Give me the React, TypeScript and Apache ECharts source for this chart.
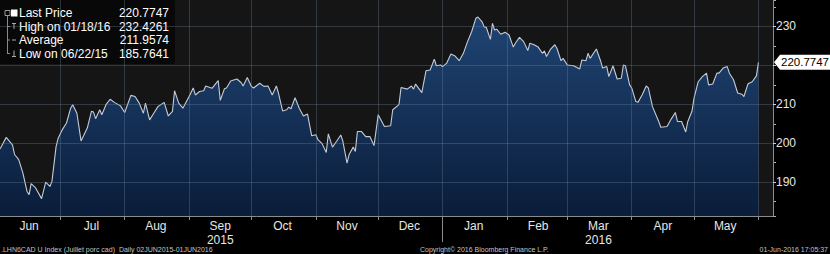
import React, { useEffect, useRef } from "react";
import * as echarts from "echarts";

// ---- data ----
const START_DATE = "2015-06-02";
const END_DATE = "2016-06-08"; // right edge of the plot (a few empty days after the last price)
// days since START_DATE of each reading, and the price read at that day
const dayOffsets = [
  0, 3, 6, 7, 9, 11, 13, 14, 15, 17, 20, 22, 24, 25, 27, 28, 30, 32, 34, 35, 37, 39, 42, 44, 45, 46, 48, 49,
  51, 53, 55, 58, 60, 63, 65, 67, 69, 70, 72, 74, 76, 79, 81, 83, 84, 86, 88, 91, 93, 94, 96, 98, 99, 102,
  105, 106, 108, 109, 111, 114, 116, 117, 119, 121, 122, 125, 127, 129, 131, 133, 134, 136, 138, 139, 140,
  142, 144, 146, 148, 150, 152, 153, 155, 157, 158, 160, 162, 164, 165, 167, 168, 170, 171, 172, 174, 176,
  178, 180, 182, 185, 188, 189, 192, 193, 196, 198, 199, 200, 203, 205, 207, 209, 210, 212, 213, 215, 217,
  219, 221, 223, 225, 227, 229, 230, 232, 233, 234, 236, 237, 238, 239, 241, 243, 245, 247, 248, 250, 252,
  254, 255, 257, 259, 261, 262, 263, 265, 267, 268, 270, 271, 273, 276, 279, 280, 282, 283, 284, 287, 289,
  290, 292, 293, 295, 297, 299, 300, 301, 303, 304, 306, 307, 309, 311, 312, 314, 317, 318, 321, 323, 325,
  326, 328, 330, 331, 333, 334, 336, 338, 340, 341, 343, 345, 346, 348, 350, 351, 353, 355, 357, 358, 360,
  362, 364, 365,
];
const prices = [
  198.5, 201.5, 199.6, 197.1, 195.8, 192.4, 187.6, 186.8, 189.6, 188.6, 185.76, 190.0, 188.9, 190.2, 199.2,
  201.3, 203.5, 205.2, 209.0, 209.9, 207.7, 200.6, 203.9, 208.2, 208.0, 206.3, 208.6, 207.3,
  209.9, 211.3, 210.5, 209.6, 207.9, 212.3, 212.0, 210.3, 207.7, 210.3, 206.0, 207.7, 209.4, 210.5, 207.0,
  208.2, 213.5, 210.3, 209.0, 212.0, 214.2, 212.4, 213.3, 213.5, 214.7, 214.1,
  216.1, 211.0, 214.0, 214.2, 216.0, 216.5, 215.6, 214.7, 216.9, 214.6, 214.2, 215.4, 214.6, 214.7, 212.4,
  214.7, 212.9, 208.3, 208.6, 209.3, 208.8,
  211.7, 209.0, 207.0, 207.5, 201.9, 202.2, 200.9, 199.9, 197.6, 202.4, 199.0, 200.5, 202.1, 200.5, 194.9,
  197.1, 199.0, 197.9, 203.0, 203.0, 201.7,
  201.7, 199.4, 207.3, 204.3, 204.5, 208.6, 209.9, 214.3, 213.9, 214.7, 213.9, 215.2, 213.0, 218.6, 218.8,
  221.6, 219.9, 220.1, 219.7, 220.6, 222.9,
  222.4, 221.2, 223.1, 226.1, 228.7, 232.1, 232.43, 231.2, 229.9, 229.8, 226.7, 230.8, 229.1, 229.3, 228.0,
  228.5, 227.8, 224.7, 225.7, 227.2, 226.1,
  223.8, 225.7, 225.3, 224.7, 223.1, 223.7, 222.3, 224.2, 225.3, 224.4, 221.2, 221.8, 220.1, 219.9, 219.1,
  221.4, 221.2, 223.1, 221.8, 224.2, 221.2,
  219.3, 219.7, 217.1, 219.9, 216.5, 216.7, 220.1, 219.9, 215.0, 214.2, 210.7, 210.5, 212.4, 214.7, 214.2,
  209.4, 205.6, 204.1, 204.3, 206.2, 207.9,
  205.6, 205.6, 202.9, 205.6, 208.2, 211.6, 215.8, 217.1, 218.0, 215.0, 215.2, 218.0, 218.0, 219.3, 219.7,
  218.0, 216.3, 212.9, 212.6, 212.0, 215.3,
  215.8, 217.3, 220.7747,
];
const Y_MIN = 181.3;
const Y_MAX = 236.8;
const monthNames = ["Jan", "Feb", "Mar", "Apr", "May", "Jun", "Jul", "Aug", "Sep", "Oct", "Nov", "Dec"];
const yearLabelMonths = ["2015-09", "2016-03"];
const yearLabelTexts = ["2015", "2016"];
const legendLabels = ["Last Price", "High on 01/18/16", "Average", "Low on 06/22/15"];
const legendValues = ["220.7747", "232.4261", "211.9574", "185.7641"];
const lastPriceText = "220.7747";
const lastPrice = 220.7747;
const footerLeft = ".LHN6CAD U Index (Juillet porc cad)  Daily 02JUN2015-01JUN2016";
const footerMid = "Copyright\u00a9 2016 Bloomberg Finance L.P.";
const footerRight = "01-Jun-2016 17:05:37";

const DAY = 86400000;
const FONT = "'Liberation Sans', Arial, sans-serif";

function parseUTC(s: string) {
  const [y, m, d] = s.split("-").map(Number);
  return Date.UTC(y, m - 1, d);
}

export default function App() {
  const ref = useRef<HTMLDivElement>(null);

  useEffect(() => {
    if (!ref.current) return;
    const chart = echarts.init(ref.current, undefined, { renderer: "svg" });
    const startMs = parseUTC(START_DATE);
    const endMs = parseUTC(END_DATE);
    const nDays = Math.round((endMs - startMs) / DAY);
    const dayCats: string[] = [];
    for (let i = 0; i <= nDays; i++) {
      dayCats.push(new Date(startMs + i * DAY).toISOString().slice(0, 10));
    }
    const seriesData = dayOffsets.map((d, i) => [startMs + d * DAY, prices[i]]);
    const isMonthStart = (_i: number, v: string) => v.slice(8, 10) === "01";
    const isMidMonth = (_i: number, v: string) => v.slice(8, 10) === "16";
    const isYearStart = (_i: number, v: string) => v.slice(5, 10) === "01-01";
    const gridLineColor = "rgba(122,142,168,0.30)";
    const axisColor = "#8c8c8c";

    const legendRowsY = [15, 28.5, 42, 55.5];
    const legendChildren: any[] = [
      {
        type: "rect",
        shape: { x: 3, y: 2, width: 175, height: 64, r: 2 },
        style: { fill: "rgba(8,8,8,0.93)" },
      },
      {
        type: "line",
        shape: { x1: 10.5, y1: 17, x2: 10.5, y2: 56 },
        style: { stroke: "#8a8a8a", lineWidth: 1 },
      },
      {
        type: "rect",
        shape: { x: 8, y: 12.5, width: 5, height: 5 },
        style: { fill: "none", stroke: "#9a9a9a", lineWidth: 1 },
      },
      {
        type: "rect",
        shape: { x: 14, y: 11.5, width: 6.5, height: 7 },
        style: { fill: "#ffffff" },
      },
      // high marker
      { type: "line", shape: { x1: 10.5, y1: 28.5, x2: 13, y2: 28.5 }, style: { stroke: "#8a8a8a" } },
      { type: "line", shape: { x1: 15, y1: 25.5, x2: 19, y2: 25.5 }, style: { stroke: "#aaaaaa" } },
      { type: "line", shape: { x1: 17, y1: 25.5, x2: 17, y2: 31 }, style: { stroke: "#aaaaaa" } },
      // average marker
      { type: "line", shape: { x1: 10.5, y1: 42, x2: 13, y2: 42 }, style: { stroke: "#8a8a8a" } },
      { type: "line", shape: { x1: 15, y1: 42, x2: 19, y2: 42 }, style: { stroke: "#aaaaaa" } },
      // low marker
      { type: "line", shape: { x1: 10.5, y1: 55.5, x2: 13, y2: 55.5 }, style: { stroke: "#8a8a8a" } },
      { type: "line", shape: { x1: 17, y1: 52.5, x2: 17, y2: 58.5 }, style: { stroke: "#aaaaaa" } },
      { type: "line", shape: { x1: 15, y1: 58.5, x2: 19, y2: 58.5 }, style: { stroke: "#aaaaaa" } },
    ];
    legendLabels.forEach((t, i) => {
      legendChildren.push({
        type: "text",
        x: 22,
        y: legendRowsY[i],
        style: {
          text: t,
          fill: "#ffffff",
          font: `12px ${FONT}`,
          textAlign: "left",
          textVerticalAlign: "middle",
        },
      });
      legendChildren.push({
        type: "text",
        x: 172,
        y: legendRowsY[i],
        style: {
          text: legendValues[i],
          fill: "#ffffff",
          font: `12px ${FONT}`,
          textAlign: "right",
          textVerticalAlign: "middle",
        },
      });
    });

    const footerStyle = (text: string, align: string) => ({
      text,
      fill: "#c4c4c4",
      font: `7px ${FONT}`,
      textAlign: align,
      textVerticalAlign: "middle",
    });

    chart.setOption({
      animation: false,
      backgroundColor: "#000000",
      textStyle: { fontFamily: FONT },
      grid: {
        left: 0,
        right: 57,
        top: 0,
        bottom: 38,
        show: true,
        backgroundColor: "#151515",
        borderWidth: 0,
        containLabel: false,
      },
      xAxis: [
        {
          type: "time",
          min: startMs,
          max: endMs,
          show: false,
        },
        {
          type: "category",
          data: dayCats,
          boundaryGap: false,
          position: "bottom",
          z: 3,
          axisLine: { show: true, lineStyle: { color: axisColor, width: 1 } },
          axisTick: { show: true, interval: isMonthStart, length: 4, lineStyle: { color: axisColor } },
          axisLabel: {
            show: true,
            interval: isMidMonth,
            color: "#e6e6e6",
            fontSize: 12,
            lineHeight: 14,
            margin: 3,
            formatter: (v: string) => {
              const m = Number(v.slice(5, 7));
              const k = yearLabelMonths.indexOf(v.slice(0, 7));
              return k >= 0 ? `${monthNames[m - 1]}\n${yearLabelTexts[k]}` : monthNames[m - 1];
            },
          },
          splitLine: {
            show: true,
            interval: isMonthStart,
            lineStyle: { color: gridLineColor, width: 1 },
          },
        },
        {
          type: "category",
          data: dayCats,
          boundaryGap: false,
          position: "bottom",
          axisLine: { show: false },
          axisLabel: { show: false },
          splitLine: { show: false },
          axisTick: { show: true, interval: isYearStart, length: 26, lineStyle: { color: axisColor } },
        },
      ],
      yAxis: [
        {
          type: "value",
          position: "right",
          min: Y_MIN,
          max: Y_MAX,
          splitNumber: 5,
          z: 3,
          axisLine: { show: true, lineStyle: { color: axisColor, width: 1 } },
          axisTick: { show: true, length: 3, lineStyle: { color: "#d0d0d0" } },
          axisLabel: {
            show: true,
            color: "#e6e6e6",
            fontSize: 12,
            margin: 3,
            showMinLabel: false,
            showMaxLabel: false,
            // the label under the last-price tag is hidden by the tag
            formatter: (v: number) => (Math.abs(v - lastPrice) < 5 ? "" : String(v)),
          },
          splitLine: {
            show: true,
            showMinLine: false,
            showMaxLine: false,
            lineStyle: { color: gridLineColor, width: 1 },
          },
        },
        {
          type: "value",
          position: "right",
          min: Y_MIN,
          max: Y_MAX,
          splitNumber: 11,
          axisLine: { show: false },
          axisLabel: { show: false },
          splitLine: { show: false },
          axisTick: { show: true, length: 3, lineStyle: { color: "#b0b0b0" } },
        },
      ],
      series: [
        {
          type: "line",
          xAxisIndex: 0,
          yAxisIndex: 0,
          data: seriesData,
          showSymbol: false,
          symbol: "none",
          z: 2,
          lineStyle: { color: "#c3ccd8", width: 1.1 },
          areaStyle: {
            color: new echarts.graphic.LinearGradient(0, 0, 0, 1, [
              { offset: 0, color: "#1f4473" },
              { offset: 1, color: "#0a1d3a" },
            ]),
            opacity: 1,
          },
          markPoint: {
            z: 6,
            silent: true,
            symbol: "path://M0,7 L6,0 L56,0 L56,14 L6,14 Z",
            symbolSize: [56, 15],
            symbolOffset: [29, 0],
            itemStyle: { color: "#ffffff" },
            label: {
              show: true,
              position: "inside",
              offset: [3, 0],
              color: "#000000",
              fontSize: 11.5,
              formatter: () => lastPriceText,
            },
            data: [{ coord: [endMs, lastPrice], value: lastPrice }],
          },
        },
      ],
      graphic: [
        { type: "group", left: 0, top: 0, children: legendChildren, z: 10 },
        { type: "text", x: 1, y: 249.5, style: footerStyle(footerLeft, "left"), z: 10 },
        { type: "text", x: 420, y: 249.5, style: footerStyle(footerMid, "left"), z: 10 },
        { type: "text", x: 828, y: 249.5, style: footerStyle(footerRight, "right"), z: 10 },
      ],
    });
    return () => chart.dispose();
  }, []);

  return (
    <div
      ref={ref}
      style={{ position: "fixed", left: 0, top: 0, width: 830, height: 254, background: "#000" }}
    />
  );
}
